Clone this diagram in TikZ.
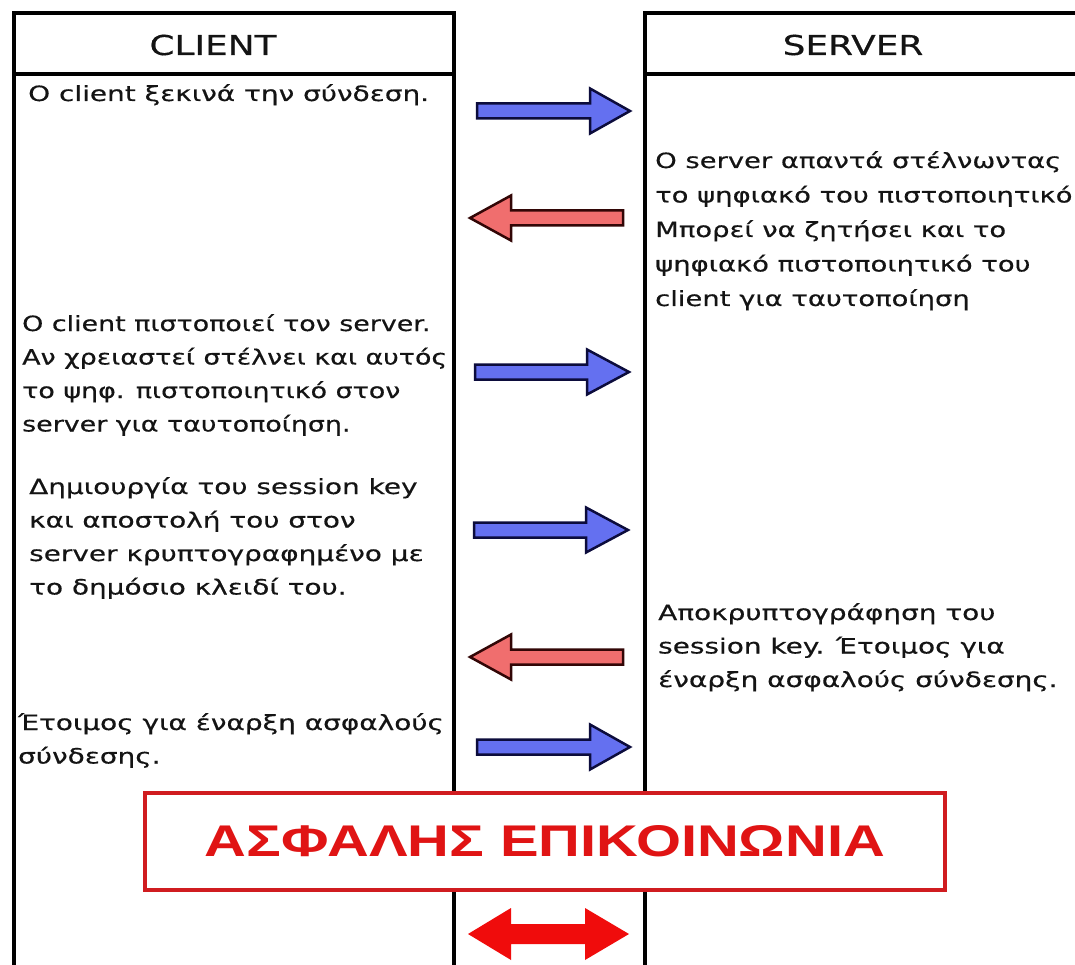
\documentclass[tikz,border=0pt]{standalone}
\usepackage{fontspec}
\usepackage{graphicx}
\setmainfont{DejaVu Sans}[FakeBold=0.35]
\newfontfamily\titlefont{Liberation Sans}

% text is set wider than the font's natural width
\newcommand{\wideh}[1]{\scalebox{1.31}[1]{#1}}
\newcommand{\textlines}[2][1.33]{\scalebox{#1}[1]{\begin{tabular}[t]{@{}l@{}}#2\end{tabular}}}

\definecolor{arrowblue}{RGB}{100,112,240}
\definecolor{arrowblueline}{RGB}{12,12,60}
\definecolor{arrowred}{RGB}{240,110,110}
\definecolor{arrowredline}{RGB}{50,6,6}
\definecolor{boxred}{RGB}{208,28,32}
\definecolor{titlered}{RGB}{224,20,20}
\definecolor{bothred}{RGB}{240,12,12}
\definecolor{inkgray}{RGB}{20,20,20}

% fat block arrow: style, tail x, head base x, tip x, centre y
\newcommand{\blockarrow}[5]{%
  \draw[#1] (#2,#5-7.5) -- (#3,#5-7.5) -- (#3,#5-22.5) -- (#4,#5)
    -- (#3,#5+22.5) -- (#3,#5+7.5) -- (#2,#5+7.5) -- cycle;}

\tikzset{
  colline/.style={line width=4pt, draw=black},
  sendarrow/.style={fill=arrowblue, draw=arrowblueline, line width=2.5pt},
  replyarrow/.style={fill=arrowred, draw=arrowredline, line width=2.5pt},
  txt/.style={anchor=base west, inner sep=0pt, text=inkgray,
    font=\fontsize{21}{33.5}\selectfont},
  looser/.style={font=\fontsize{21}{34.5}\selectfont},
  head/.style={anchor=base, inner sep=0pt, text=inkgray,
    font=\fontsize{27.4}{33}\selectfont},
}

\begin{document}
\begin{tikzpicture}[x=1pt, y=-1pt]
\useasboundingbox (0,0) rectangle (1075,965);
\clip (0,0) rectangle (1075,965);
\fill[white] (0,0) rectangle (1075,965);

% client and server columns
\draw[colline] (14,975) -- (14,13) -- (454,13) -- (454,975);
\draw[colline] (14,74) -- (454,74);
\draw[colline] (645,975) -- (645,13) -- (1085,13);
\draw[colline] (645,74) -- (1085,74);

\node[head] (client) at (213,55) {\wideh{CLIENT}};
\node[head] (server) at (853,55) {\wideh{SERVER}};

% messages
\node[txt] (c1) at (28,101) {\textlines{Ο client ξεκινά την σύνδεση.}};
\node[txt, looser] (s1) at (655,168) {\textlines[1.305]{Ο server απαντά στέλνωντας\\
  το ψηφιακό του πιστοποιητικό\\ Μπορεί να ζητήσει και το\\
  ψηφιακό πιστοποιητικό του\\ client για ταυτοποίηση}};
\node[txt] (c2) at (22,331) {\textlines[1.28]{Ο client πιστοποιεί τον server.\\
  Αν χρειαστεί στέλνει και αυτός\\ το ψηφ. πιστοποιητικό στον\\
  server για ταυτοποίηση.}};
\node[txt] (c3) at (29,494) {\textlines{Δημιουργία του session key\\
  και αποστολή του στον\\ server κρυπτογραφημένο με\\
  το δημόσιο κλειδί του.}};
\node[txt] (s2) at (658,620) {\textlines{Αποκρυπτογράφηση του\\
  session key. Έτοιμος για\\ έναρξη ασφαλούς σύνδεσης.}};
\node[txt] (c4) at (18,730) {\textlines{Έτοιμος για έναρξη ασφαλούς\\
  σύνδεσης.}};

% exchanged messages
\blockarrow{sendarrow}{477}{590}{630}{111}
\blockarrow{replyarrow}{623}{511}{470}{218}
\blockarrow{sendarrow}{475}{587}{629}{372}
\blockarrow{sendarrow}{474}{586}{628}{530}
\blockarrow{replyarrow}{623}{511}{470}{657}
\blockarrow{sendarrow}{477}{590}{630}{747}

% secure channel
\node[draw=boxred, line width=4pt, fill=white, minimum width=800pt,
  minimum height=97pt, inner sep=0pt] (secure) at (545,841.5)
  {\textcolor{titlered}{\resizebox{680pt}{31pt}{\titlefont\bfseries ΑΣΦΑΛΗΣ ΕΠΙΚΟΙΝΩΝΙΑ}}};

\fill[bothred] (468,934) -- (511,908) -- (511,924) -- (585,924) -- (585,908)
  -- (629,934) -- (585,960) -- (585,944) -- (511,944) -- (511,960) -- cycle;
\end{tikzpicture}
\end{document}
